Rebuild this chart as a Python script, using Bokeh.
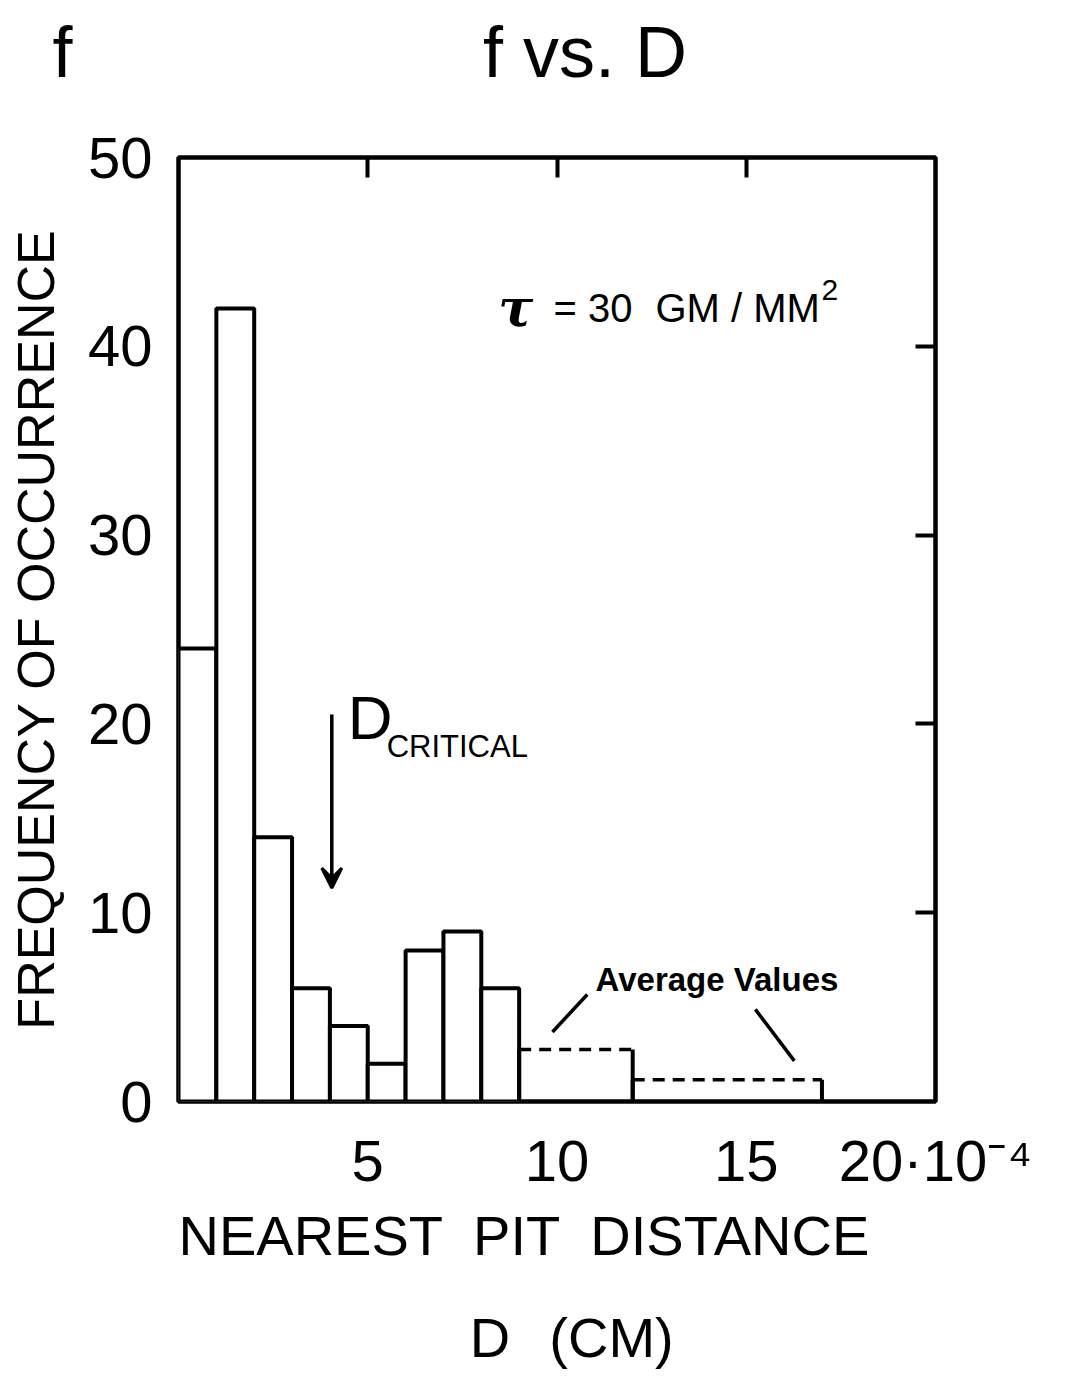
import math
from bokeh.plotting import figure
from bokeh.models import (Range1d, LinearAxis, FixedTicker, Label, Arrow, VeeHead,
                          ColumnDataSource, Title)
from bokeh.embed import file_html
from bokeh.resources import INLINE

# ---------------- data ----------------
bin_left = [0, 1, 2, 3, 4, 5, 6, 7, 8, 9, 12]
bin_right = [1, 2, 3, 4, 5, 6, 7, 8, 9, 12, 17]
frequency = [24, 42, 14, 6, 4, 2, 8, 9, 6, 2.75, 1.15]
average_bin = [False, False, False, False, False, False, False, False, False, True, True]

x_ticks = [5, 10, 15, 20]
y_ticks = [0, 10, 20, 30, 40, 50]
x_tick_labels = {5: "5", 10: "10", 15: "15", 20: "20\u00b710\u207b\u2074"}
right_ticks = [10, 20, 30, 40]
top_ticks = [5, 10, 15]

FONT = "Liberation Sans"
SERIF = "DejaVu Serif"

EM, EN, THIN = "\u2003", "\u2002", "\u2009"

# ---------------- figure ----------------
p = figure(width=1065, height=1376, x_range=Range1d(0, 20), y_range=Range1d(0, 50),
           x_axis_type=None, y_axis_type=None, output_backend="svg",
           toolbar_location=None,
           min_border_left=178, min_border_right=130,
           min_border_top=157, min_border_bottom=267)
p.outline_line_color = "black"
p.outline_line_width = 4.5
p.background_fill_color = "white"
p.border_fill_color = "white"

# axes
left_ax = LinearAxis(ticker=FixedTicker(ticks=y_ticks), major_tick_in=0, major_tick_out=0,
                     axis_line_color=None, major_label_standoff=26,
                     major_label_text_font_size="58px", major_label_text_font=FONT,
                     major_label_text_color="black", minor_tick_line_color=None,
                     axis_label="FREQUENCY OF OCCURRENCE", axis_label_standoff=20,
                     axis_label_text_font=FONT, axis_label_text_font_size="52px",
                     axis_label_text_font_style="normal", axis_label_text_color="black")
p.add_layout(left_ax, "left")

bottom_ax = LinearAxis(ticker=FixedTicker(ticks=x_ticks), major_tick_in=0, major_tick_out=0,
                       axis_line_color=None, major_label_standoff=26,
                       major_label_text_font_size="58px", major_label_text_font=FONT,
                       major_label_text_color="black", minor_tick_line_color=None,
                       major_label_overrides=x_tick_labels)
p.add_layout(bottom_ax, "below")

right_ax = LinearAxis(ticker=FixedTicker(ticks=right_ticks), major_tick_in=20, major_tick_out=0,
                      major_tick_line_width=4, major_tick_line_color="black",
                      axis_line_color=None, minor_tick_line_color=None,
                      major_label_overrides={t: "" for t in right_ticks},
                      major_label_text_font_size="10px")
p.add_layout(right_ax, "right")

# top axis: inward ticks; its label carries the chart title ("f" of the y axis + "f vs. D")
title_text = "f" + EM * 5 + EN + THIN + "f vs. D" + EM * 5 + THIN
top_ax = LinearAxis(ticker=FixedTicker(ticks=top_ticks), major_tick_in=20, major_tick_out=0,
                    major_tick_line_width=4, major_tick_line_color="black",
                    axis_line_color=None, minor_tick_line_color=None,
                    major_label_overrides={t: "" for t in top_ticks},
                    major_label_text_font_size="10px", major_label_standoff=0,
                    axis_label=title_text, axis_label_standoff=66,
                    axis_label_text_font=FONT, axis_label_text_font_size="72px",
                    axis_label_text_font_style="normal", axis_label_text_color="black")
p.add_layout(top_ax, "above")

# x-axis caption: two lines ("NEAREST PIT DISTANCE" / "D (CM)")
x_caption = "NEAREST \u00a0PIT \u00a0DISTANCE\n" + EM * 5 + THIN + "D" + EN + THIN + "(CM)"
p.add_layout(Title(text=x_caption, align="left", offset=0,
                   text_font=FONT, text_font_size="56px", text_font_style="normal",
                   text_color="black", standoff=14, text_line_height=1.62), "below")

# ---------------- histogram ----------------
reg = ColumnDataSource(dict(
    left=[l for l, a in zip(bin_left, average_bin) if not a],
    right=[r for r, a in zip(bin_right, average_bin) if not a],
    top=[f for f, a in zip(frequency, average_bin) if not a],
))
p.quad(left="left", right="right", top="top", bottom=0, source=reg,
       fill_color="white", line_color="black", line_width=4)

avg = ColumnDataSource(dict(
    left=[l for l, a in zip(bin_left, average_bin) if a],
    right=[r for r, a in zip(bin_right, average_bin) if a],
    top=[f for f, a in zip(frequency, average_bin) if a],
    zero=[0 for a in average_bin if a],
))
p.segment(x0="left", y0="zero", x1="left", y1="top", source=avg, line_color="black", line_width=4)
p.segment(x0="right", y0="zero", x1="right", y1="top", source=avg, line_color="black", line_width=4)
p.segment(x0="left", y0="top", x1="right", y1="top", source=avg, line_color="black",
          line_width=3.5, line_dash="12 8")

# pointer lines for "Average Values"
p.segment(x0=[9.88, 15.24], y0=[3.68, 4.88], x1=[10.80, 16.27], y1=[5.67, 2.15],
          line_color="black", line_width=3.5)

# D critical arrow
p.add_layout(Arrow(end=VeeHead(size=20, line_width=3, line_color="black", fill_color="black"),
                   x_start=4.05, y_start=20.5, x_end=4.05, y_end=11.3,
                   line_width=3.5, line_color="black"))


def lab(x, y, text, size, font=FONT, style="normal", align="left", baseline="alphabetic"):
    p.add_layout(Label(x=x, y=y, text=text, text_font=font, text_font_size=f"{size}px",
                       text_font_style=style, text_align=align, text_baseline=baseline,
                       text_color="black"))


# tau annotation
lab(8.45, 42.05, "\u03c4", 52, font=SERIF, style="bold italic")
lab(9.91, 42.05, "= 30", 40)
lab(12.60, 42.05, "GM / MM", 40)
lab(16.99, 43.0, "2", 30)

# D critical
lab(4.47, 20.32, "D", 62)
lab(5.50, 18.80, "CRITICAL", 31)

# Average values
lab(11.02, 6.44, "Average Values", 33, style="bold")

open("out.html", "w").write(file_html(p, INLINE))
